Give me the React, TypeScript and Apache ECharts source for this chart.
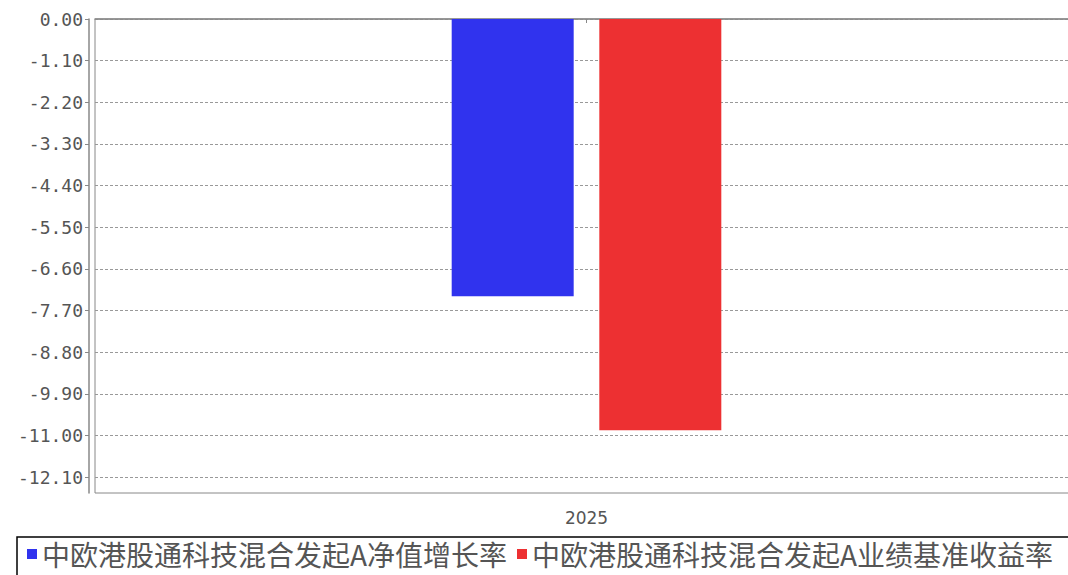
import React, { useEffect, useRef } from "react";
import * as echarts from "echarts";

const categories = ["2025"];
const seriesNames = [
  "中欧港股通科技混合发起A净值增长率",
  "中欧港股通科技混合发起A业绩基准收益率",
];
const navGrowth = [-7.32];
const benchmarkReturn = [-10.86];
const yTicks = [0, -1.1, -2.2, -3.3, -4.4, -5.5, -6.6, -7.7, -8.8, -9.9, -11.0, -12.1];
const yMin = -12.52;
const yMax = 0;

export default function App() {
  const ref = useRef<HTMLDivElement>(null);
  useEffect(() => {
    if (!ref.current) return;
    const chart = echarts.init(ref.current, undefined, { renderer: "svg" });
    const axisColor = "#888";
    chart.setOption({
      animation: false,
      backgroundColor: "#fff",
      grid: {
        left: 95,
        top: 19,
        right: 82,
        bottom: 97,
        show: true,
        borderColor: "#888",
        borderWidth: 1,
        backgroundColor: "#fff",
      },
      legend: {
        left: 17,
        top: 537,
        width: 1120,
        orient: "horizontal",
        padding: [3, 60, 20, 10],
        borderColor: "#000",
        borderWidth: 1.5,
        borderRadius: 0,
        itemWidth: 10,
        itemHeight: 10,
        itemGap: 10,
        icon: "rect",
        data: seriesNames,
        textStyle: {
          fontFamily: "Noto Sans CJK SC",
          fontSize: 28,
          lineHeight: 28,
          color: "#555",
        },
      },
      xAxis: {
        type: "category",
        data: categories,
        offset: 5,
        axisLine: { show: true, lineStyle: { color: axisColor, width: 1.5 } },
        axisTick: { show: true, alignWithLabel: true, length: 4, lineStyle: { color: axisColor } },
        axisLabel: {
          margin: 11,
          fontFamily: "DejaVu Sans",
          fontSize: 17,
          color: "#555",
        },
        splitLine: { show: false },
      },
      yAxis: {
        type: "value",
        min: yMin,
        max: yMax,
        offset: 6,
        axisLine: { show: true, lineStyle: { color: axisColor, width: 1.5 } },
        axisTick: {
          show: true,
          length: 4,
          customValues: yTicks,
          lineStyle: { color: axisColor },
        },
        axisLabel: {
          customValues: yTicks,
          margin: 6,
          fontFamily: "DejaVu Sans Mono",
          fontSize: 18,
          color: "#555",
          formatter: (v: number) => v.toFixed(2),
        },
        splitLine: {
          show: true,
          lineStyle: { color: "#999", type: [3, 2], width: 1 },
        },
      },
      series: [
        {
          name: seriesNames[0],
          type: "bar",
          data: navGrowth,
          barWidth: 122,
          barGap: "21%",
          itemStyle: { color: "#3033ee" },
        },
        {
          name: seriesNames[1],
          type: "bar",
          data: benchmarkReturn,
          barWidth: 122,
          barGap: "21%",
          itemStyle: { color: "#ed3032" },
        },
      ],
    });
    return () => chart.dispose();
  }, []);
  return (
    <div
      style={{
        position: "fixed",
        left: 0,
        top: 0,
        width: 1068,
        height: 575,
        overflow: "hidden",
        background: "#fff",
      }}
    >
      <div ref={ref} style={{ width: 1160, height: 590 }} />
    </div>
  );
}
